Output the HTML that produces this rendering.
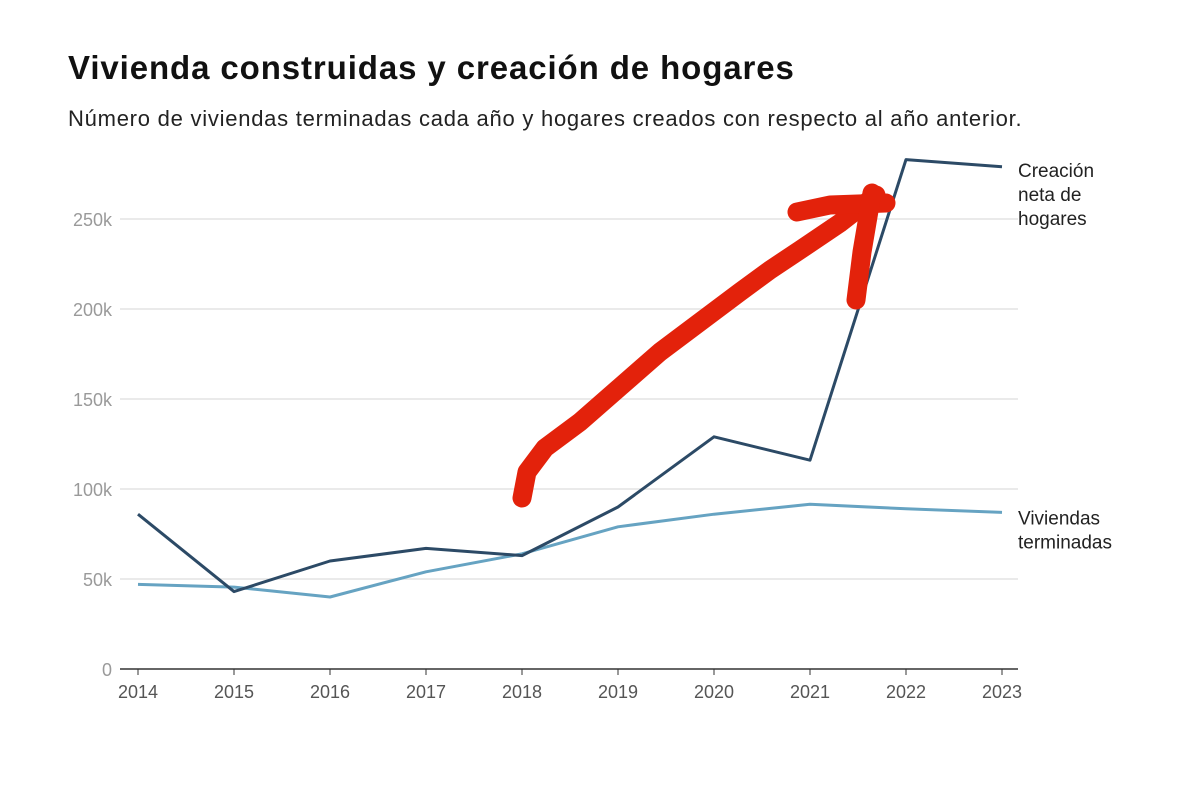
<!DOCTYPE html>
<html><head><meta charset="utf-8"><style>
body{margin:0;background:#fff;width:1200px;height:789px;overflow:hidden;font-family:"Liberation Sans",sans-serif}
</style></head><body>
<svg width="1200" height="789">
<text x="68" y="79" font-size="33" font-weight="bold" letter-spacing="0.9" fill="#111">Vivienda construidas y creación de hogares</text>
<text x="68" y="126" font-size="22" letter-spacing="0.75" fill="#222">Número de viviendas terminadas cada año y hogares creados con respecto al año anterior.</text>
<g id="grid"></g><g id="series"></g>
<g fill="none" stroke="#e3220b" stroke-width="19" stroke-linecap="round" stroke-linejoin="round">
<path d="M522,498 L527,472 L545,448 L580,422 L620,387 L660,352 L700,322 L740,292 L770,270 L800,250 L840,223 L876,195"/>
<path d="M797,212 L830,205 L886,203"/>
<path d="M856,300 L862,252 L872,193"/>
</g>
</svg>
<script>
const years=[2014,2015,2016,2017,2018,2019,2020,2021,2022,2023];
const hogares=[86000,43000,60000,67000,63000,90000,129000,116000,283000,279000];
const viviendas=[47000,45500,40000,54000,64000,79000,86000,91500,89000,87000];
const yTicks=[0,50000,100000,150000,200000,250000];
const yLabels=["0","50k","100k","150k","200k","250k"];
const NS="http://www.w3.org/2000/svg";
const x=i=>138+i*96, y=v=>669-v*90/50000;
const grid=document.getElementById('grid'), ser=document.getElementById('series');
function mk(tag,attrs,parent,txt){const e=document.createElementNS(NS,tag);for(const k in attrs)e.setAttribute(k,attrs[k]);if(txt!==undefined)e.textContent=txt;parent.appendChild(e);return e;}
yTicks.forEach((t,i)=>{
 if(t>0){const l=mk('line',{x1:120,x2:1018,y1:y(t),y2:y(t),stroke:'#e3e3e3','stroke-width':1.5},grid);
 
 }
 const tx=mk('text',{x:112,y:y(t)+7,'text-anchor':'end','font-size':18,fill:'#9a9a9a'},grid,yLabels[i]);
 
 
});
const ax=mk('line',{x1:120,x2:1018,y1:669,y2:669,stroke:'#333','stroke-width':1.5},grid);


years.forEach((yr,i)=>{
 const tk=mk('line',{x1:x(i),x2:x(i),y1:669,y2:675,stroke:'#333'},grid);
 
 
 const tx=mk('text',{x:x(i),y:698,'text-anchor':'middle','font-size':18,fill:'#555'},grid,String(yr));
 
 
});
function line(vals,color,name){const p=mk('polyline',{points:vals.map((v,i)=>x(i)+','+y(v)).join(' '),fill:'none',stroke:color,'stroke-width':3,'stroke-linejoin':'round'},ser);
 
 }
line(viviendas,'#66a3c2','viviendas-line');
line(hogares,'#2c4a66','hogares-line');
const l1=mk('text',{x:1018,'font-size':19,fill:'#222'},ser);


["Creación","neta de","hogares"].forEach((s,i)=>mk('tspan',{x:1018,y:y(hogares[9])+10+i*24},l1,s));
const l2=mk('text',{x:1018,'font-size':19,fill:'#222'},ser);


["Viviendas","terminadas"].forEach((s,i)=>mk('tspan',{x:1018,y:y(viviendas[9])+12+i*24},l2,s));
</script>
</body></html>
